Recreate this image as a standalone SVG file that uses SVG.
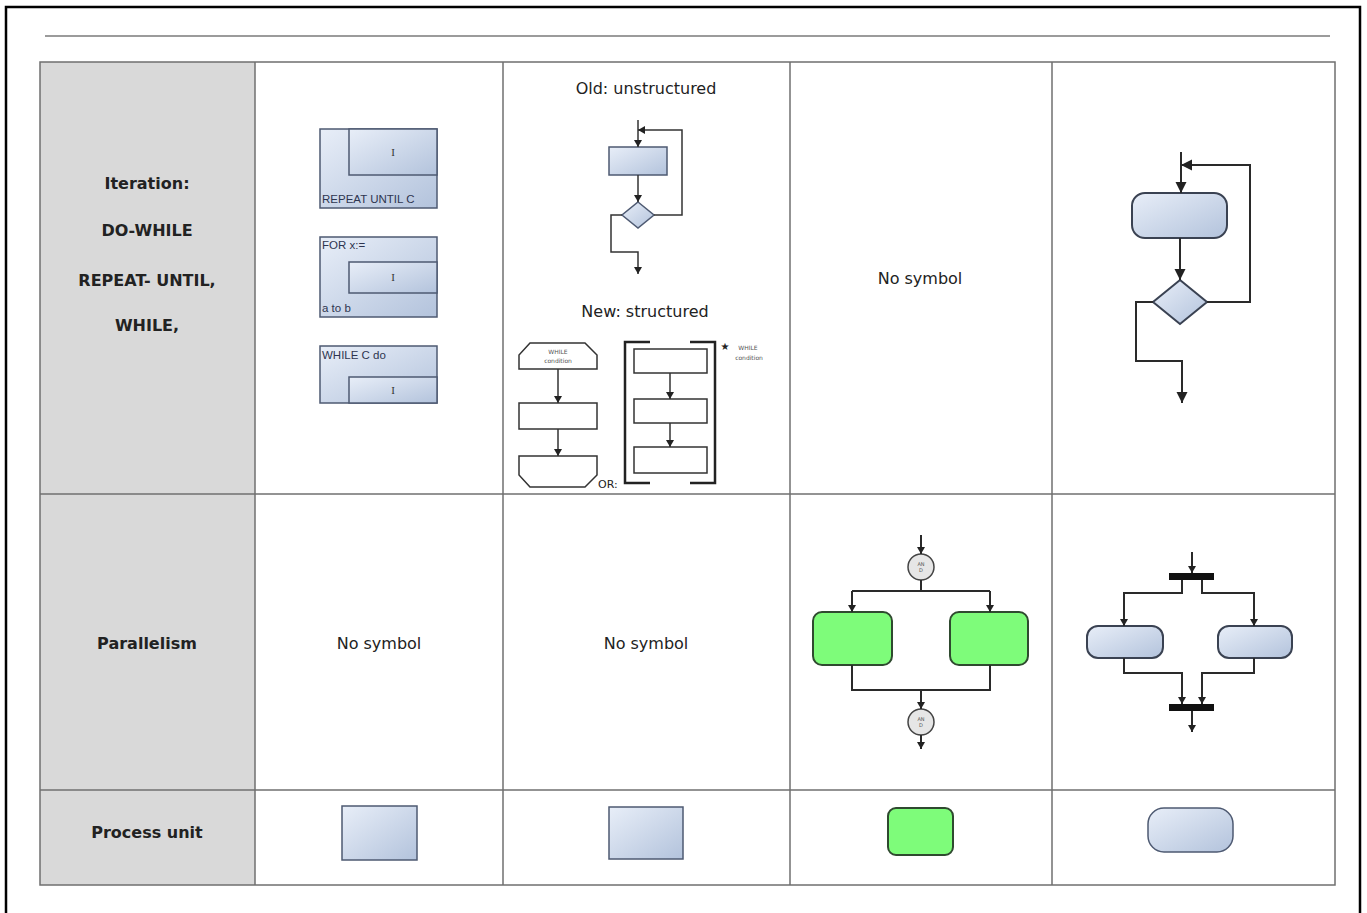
<svg xmlns="http://www.w3.org/2000/svg" width="1367" height="913" viewBox="0 0 1367 913">
  <style>
    .label { font-family: "DejaVu Sans", "Liberation Sans", sans-serif; font-size: 16px; fill: #222; text-anchor: middle; }
    .bold { font-weight: bold; }
    .ns { font-family: "Liberation Sans", Arial, sans-serif; font-size: 11.5px; fill: #2e3550; }
    .tiny { font-family: "DejaVu Sans", sans-serif; font-size: 6px; fill: #555; text-anchor: middle; }
    .grid { stroke: #6f6f6f; stroke-width: 1.5; fill: none; }
    .blue { fill: url(#blueGrad); stroke: #4e5a72; stroke-width: 1.5; }
    .blue2 { fill: url(#blueGrad); stroke: #3a4252; stroke-width: 2; }
    .green { fill: #7efc7a; stroke: #2f4a2f; stroke-width: 2; }
    .plain { fill: #fff; stroke: #333; stroke-width: 1.5; }
    .wire { fill: none; stroke: #333; stroke-width: 1.5; }
    .wire2 { fill: none; stroke: #2a2a2a; stroke-width: 2; }
    .bar { fill: #111; }
  </style>
  <defs>
    <linearGradient id="blueGrad" x1="0" y1="0" x2="1" y2="1">
      <stop offset="0" stop-color="#e8eef8"/>
      <stop offset="1" stop-color="#b3c3dc"/>
    </linearGradient>
    <marker id="arrS" markerUnits="userSpaceOnUse" markerWidth="8" markerHeight="8" refX="7" refY="4" orient="auto">
      <path d="M0,0 L7,4 L0,8 Z" fill="#222"/>
    </marker>
    <marker id="arrL" markerUnits="userSpaceOnUse" markerWidth="12" markerHeight="12" refX="11" refY="5.5" orient="auto">
      <path d="M0,0 L11,5.5 L0,11 Z" fill="#222"/>
    </marker>
  </defs>

  <!-- page frame and header rule -->
  <rect x="6" y="7" width="1354" height="920" fill="#fff" stroke="#000" stroke-width="2.5"/>
  <line x1="45" y1="36" x2="1330" y2="36" stroke="#7a7a7a" stroke-width="1.5"/>

  <!-- table -->
  <g id="table">
    <rect x="40" y="62" width="215" height="823" fill="#d9d9d9"/>
    <rect class="grid" x="40" y="62" width="1295" height="823"/>
    <line class="grid" x1="255" y1="62" x2="255" y2="885"/>
    <line class="grid" x1="503" y1="62" x2="503" y2="885"/>
    <line class="grid" x1="790" y1="62" x2="790" y2="885"/>
    <line class="grid" x1="1052" y1="62" x2="1052" y2="885"/>
    <line class="grid" x1="40" y1="494" x2="1335" y2="494"/>
    <line class="grid" x1="40" y1="790" x2="1335" y2="790"/>
  </g>

  <!-- row headings -->
  <g id="row-headings">
    <text class="label bold" x="147" y="189">Iteration:</text>
    <text class="label bold" x="147" y="236">DO-WHILE</text>
    <text class="label bold" x="147" y="286">REPEAT- UNTIL,</text>
    <text class="label bold" x="147" y="331">WHILE,</text>
    <text class="label bold" x="147" y="649">Parallelism</text>
    <text class="label bold" x="147" y="838">Process unit</text>
  </g>

  <!-- cell texts -->
  <g id="cell-texts">
    <text class="label" x="646" y="94">Old: unstructured</text>
    <text class="label" x="645" y="317">New: structured</text>
    <text class="label" x="920" y="284">No symbol</text>
    <text class="label" x="379" y="649">No symbol</text>
    <text class="label" x="646" y="649">No symbol</text>
  </g>

  <!-- Nassi-Shneiderman loop blocks -->
  <g id="ns-repeat">
    <rect class="blue" x="320" y="129" width="117" height="79"/>
    <rect class="blue" x="349" y="129" width="88" height="46"/>
    <text x="393" y="156" font-family="Liberation Serif, serif" font-size="11" fill="#333" text-anchor="middle">I</text>
    <text class="ns" x="322" y="203">REPEAT UNTIL C</text>
  </g>
  <g id="ns-for">
    <rect class="blue" x="320" y="237" width="117" height="80"/>
    <rect class="blue" x="349" y="262" width="88" height="31"/>
    <text x="393" y="281" font-family="Liberation Serif, serif" font-size="11" fill="#333" text-anchor="middle">I</text>
    <text class="ns" x="322" y="249">FOR x:=</text>
    <text class="ns" x="322" y="312">a to b</text>
  </g>
  <g id="ns-while">
    <rect class="blue" x="320" y="346" width="117" height="57"/>
    <rect class="blue" x="349" y="377" width="88" height="26"/>
    <text x="393" y="394" font-family="Liberation Serif, serif" font-size="11" fill="#333" text-anchor="middle">I</text>
    <text class="ns" x="322" y="359">WHILE C do</text>
  </g>

  <!-- unstructured flowchart loop -->
  <g id="old-box"><rect class="blue" x="609" y="147" width="58" height="28"/></g>
  <g id="old-decision"><polygon class="blue" points="638,202 654,215 638,228 622,215"/></g>

  <!-- structured flowchart loop -->
  <g id="new-while-head">
    <polygon class="plain" points="530,343 585,343 597,355 597,369 519,369 519,355"/>
    <text class="tiny" x="558" y="354">WHILE</text>
    <text class="tiny" x="558" y="363">condition</text>
  </g>
  <g id="new-body"><rect class="plain" x="519" y="403" width="78" height="26"/></g>
  <g id="new-while-end"><polygon class="plain" points="519,456 597,456 597,475 585,487 530,487 519,475"/></g>
  <text x="598" y="488" font-family="DejaVu Sans, sans-serif" font-size="11" fill="#222">OR:</text>
  <g id="new-bracket">
    <path d="M650,342 H625 V483 H650" fill="none" stroke="#222" stroke-width="2.5"/>
    <path d="M690,342 H715 V483 H690" fill="none" stroke="#222" stroke-width="2.5"/>
    <text x="725" y="350" font-family="DejaVu Sans, sans-serif" font-size="10" fill="#222" text-anchor="middle">★</text>
    <text class="tiny" x="748" y="350">WHILE</text>
    <text class="tiny" x="749" y="360">condition</text>
  </g>
  <g id="new-step1"><rect class="plain" x="634" y="349" width="73" height="24"/></g>
  <g id="new-step2"><rect class="plain" x="634" y="399" width="73" height="24"/></g>
  <g id="new-step3"><rect class="plain" x="634" y="447" width="73" height="26"/></g>

  <!-- activity-style loop -->
  <g id="act-action"><rect class="blue2" x="1132" y="193" width="95" height="45" rx="13"/></g>
  <g id="act-decision"><polygon class="blue2" points="1180,280 1207,302 1180,324 1153,302"/></g>

  <!-- parallel branches with AND connectors -->
  <g id="and-split">
    <circle cx="921" cy="567" r="13" fill="#e6e6e6" stroke="#444" stroke-width="1.5"/>
    <text class="tiny" x="921" y="566" style="font-size:5px">AN</text>
    <text class="tiny" x="921" y="572" style="font-size:5px">D</text>
  </g>
  <g id="par-green-left"><rect class="green" x="813" y="612" width="79" height="53" rx="9"/></g>
  <g id="par-green-right"><rect class="green" x="950" y="612" width="78" height="53" rx="9"/></g>
  <g id="and-join">
    <circle cx="921" cy="722" r="13" fill="#e6e6e6" stroke="#444" stroke-width="1.5"/>
    <text class="tiny" x="921" y="721" style="font-size:5px">AN</text>
    <text class="tiny" x="921" y="727" style="font-size:5px">D</text>
  </g>

  <!-- parallel branches with fork/join bars -->
  <g id="fork-bar"><rect class="bar" x="1169" y="573" width="45" height="7"/></g>
  <g id="par-blue-left"><rect class="blue2" x="1087" y="626" width="76" height="32" rx="11"/></g>
  <g id="par-blue-right"><rect class="blue2" x="1218" y="626" width="74" height="32" rx="11"/></g>
  <g id="join-bar"><rect class="bar" x="1169" y="704" width="45" height="7"/></g>

  <!-- process unit symbols -->
  <g id="pu-ns"><rect class="blue" x="342" y="806" width="75" height="54"/></g>
  <g id="pu-flow"><rect class="blue" x="609" y="807" width="74" height="52"/></g>
  <g id="pu-green"><rect class="green" x="888" y="808" width="65" height="47" rx="8"/></g>
  <g id="pu-activity"><rect class="blue" x="1148" y="808" width="85" height="44" rx="16"/></g>

  <!-- connectors -->
  <g id="connectors">
    <!-- unstructured loop -->
    <path class="wire" d="M638,120 V147" marker-end="url(#arrS)"/>
    <path class="wire" d="M638,175 V202" marker-end="url(#arrS)"/>
    <path class="wire" d="M654,215 H682 V130 H638" marker-end="url(#arrS)"/>
    <path class="wire" d="M622,215 H611 V252 H638 V274" marker-end="url(#arrS)"/>
    <!-- structured loop -->
    <path class="wire" d="M558,369 V403" marker-end="url(#arrS)"/>
    <path class="wire" d="M558,429 V456" marker-end="url(#arrS)"/>
    <path class="wire" d="M670,373 V399" marker-end="url(#arrS)"/>
    <path class="wire" d="M670,423 V447" marker-end="url(#arrS)"/>
    <!-- activity loop -->
    <path class="wire2" d="M1181,152 V193" marker-end="url(#arrL)"/>
    <path class="wire2" d="M1180,238 V280" marker-end="url(#arrL)"/>
    <path class="wire2" d="M1207,302 H1250 V165 H1181" marker-end="url(#arrL)"/>
    <path class="wire2" d="M1153,302 H1136 V361 H1182 V403" marker-end="url(#arrL)"/>
    <!-- AND split / join -->
    <path class="wire2" d="M921,535 V554" marker-end="url(#arrS)"/>
    <path class="wire2" d="M921,580 V591"/>
    <path class="wire2" d="M852,591 H990"/>
    <path class="wire2" d="M852,591 V612" marker-end="url(#arrS)"/>
    <path class="wire2" d="M990,591 V612" marker-end="url(#arrS)"/>
    <path class="wire2" d="M852,665 V690 H990 V665"/>
    <path class="wire2" d="M921,690 V709" marker-end="url(#arrS)"/>
    <path class="wire2" d="M921,735 V749" marker-end="url(#arrS)"/>
    <!-- fork / join -->
    <path class="wire2" d="M1192,552 V573" marker-end="url(#arrS)"/>
    <path class="wire2" d="M1182,580 V593 H1124 V626" marker-end="url(#arrS)"/>
    <path class="wire2" d="M1202,580 V593 H1254 V626" marker-end="url(#arrS)"/>
    <path class="wire2" d="M1124,658 V673 H1182 V704" marker-end="url(#arrS)"/>
    <path class="wire2" d="M1254,658 V673 H1202 V704" marker-end="url(#arrS)"/>
    <path class="wire2" d="M1192,711 V732" marker-end="url(#arrS)"/>
  </g>
</svg>
